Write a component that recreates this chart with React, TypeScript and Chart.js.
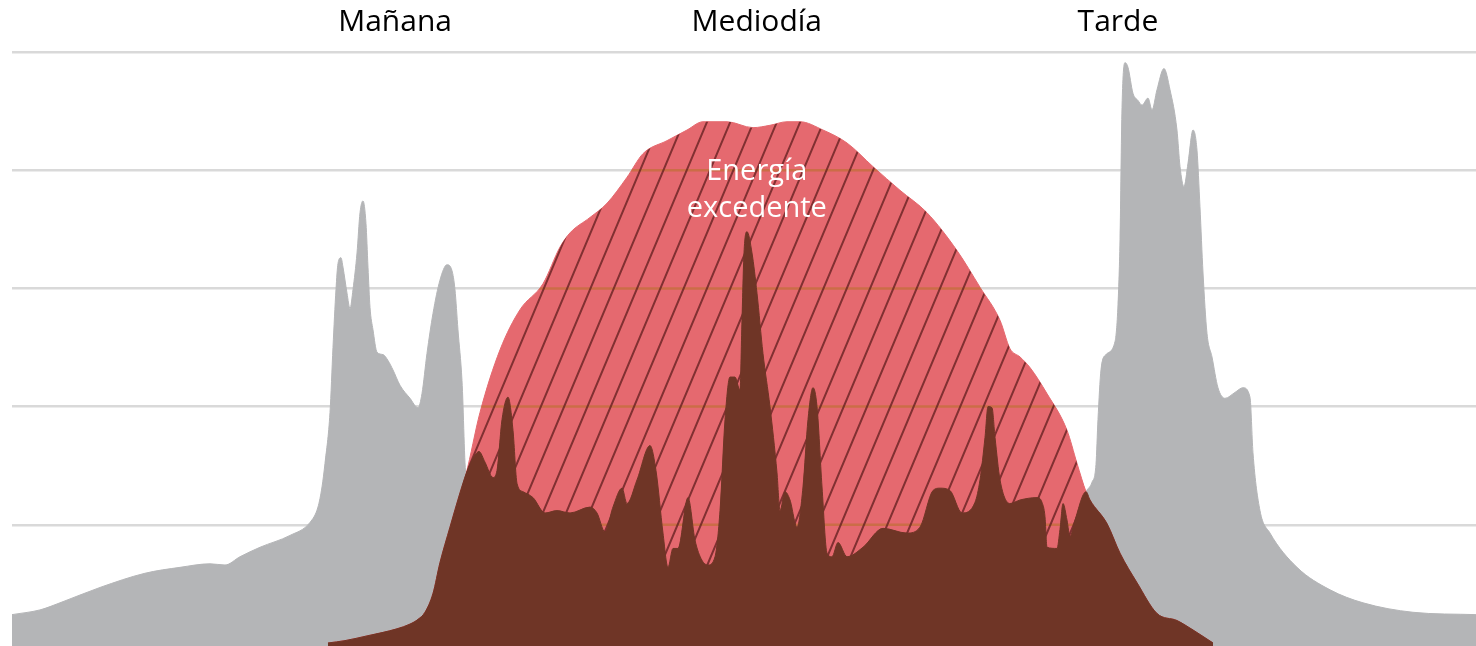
import React, { useEffect, useRef } from "react";
import { Chart, registerables } from "chart.js";

Chart.register(...registerables);

// Hours of the day (x) and power values (y)
const consumoHora = [
  0, 0.459, 0.787, 1.443, 2.18, 2.754, 3.246, 3.492, 3.738, 4.066, 4.557, 4.885, 5.016, 5.082, 5.131,
  5.213, 5.262, 5.311, 5.344, 5.393, 5.426, 5.492, 5.541, 5.59, 5.656, 5.705, 5.754, 5.803, 5.836,
  5.869, 5.918, 5.984, 6.082, 6.164, 6.246, 6.361, 6.525, 6.656, 6.721, 6.803, 6.902, 7.016, 7.131,
  7.213, 7.262, 7.311, 7.377, 7.443, 7.508, 7.59, 7.656, 7.754, 7.885, 7.951, 8.033, 8.131, 8.213,
  8.279, 8.377, 8.541, 8.738, 8.934, 9.148, 9.475, 9.59, 9.721, 9.852, 10.0, 10.082, 10.246, 10.459,
  10.557, 10.672, 10.754, 10.836, 10.918, 11.082, 11.197, 11.311, 11.41, 11.525, 11.607, 11.689,
  11.77, 11.852, 11.934, 11.967, 12.0, 12.049, 12.131, 12.213, 12.311, 12.426, 12.541, 12.59, 12.672,
  12.754, 12.869, 12.967, 13.049, 13.131, 13.197, 13.279, 13.361, 13.443, 13.541, 13.689, 13.951,
  14.279, 14.672, 14.885, 15.098, 15.213, 15.377, 15.574, 15.787, 15.869, 15.951, 16.0, 16.066,
  16.115, 16.197, 16.361, 16.525, 16.803, 16.885, 16.934, 16.967, 17.131, 17.18, 17.23, 17.295,
  17.344, 17.426, 17.607, 17.705, 17.77, 17.803, 17.852, 17.934, 18.082, 18.131, 18.164, 18.197,
  18.246, 18.295, 18.377, 18.459, 18.525, 18.623, 18.689, 18.77, 18.885, 18.984, 19.098, 19.148,
  19.213, 19.279, 19.361, 19.426, 19.475, 19.525, 19.59, 19.672, 19.77, 19.885, 20.049, 20.18,
  20.295, 20.344, 20.459, 20.623, 21.066, 21.607, 22.148, 22.967, 24,
];
const consumoKW = [
  0.24, 0.28, 0.34, 0.47, 0.59, 0.64, 0.67, 0.66, 0.73, 0.81, 0.91, 1.02, 1.15, 1.32, 1.52,
  1.95, 2.5, 2.99, 3.21, 3.26, 3.18, 2.96, 2.83, 2.99, 3.3, 3.64, 3.74, 3.55, 3.18,
  2.84, 2.65, 2.46, 2.44, 2.39, 2.31, 2.18, 2.07, 1.99, 2.11, 2.45, 2.79, 3.07, 3.2,
  3.15, 2.99, 2.65, 2.22, 1.43, 1.51, 1.59, 1.62, 1.53, 1.4, 1.46, 1.89, 2.08, 1.8,
  1.35, 1.28, 1.23, 1.1, 1.12, 1.1, 1.15, 1.1, 0.94, 1.15, 1.31, 1.18, 1.38, 1.67,
  1.46, 0.93, 0.64, 0.8, 0.8, 1.23, 0.87, 0.7, 0.66, 0.73, 1.12, 1.89,
  2.25, 2.25, 2.14, 2.73, 3.3, 3.48, 3.3, 2.96, 2.45, 2.0, 1.44, 1.12, 1.28,
  1.21, 0.98, 1.32, 1.89, 2.16, 2.0, 1.32, 0.76, 0.73, 0.85, 0.73, 0.81,
  0.97, 0.93, 0.98, 1.29, 1.31, 1.29, 1.1, 1.19, 1.38, 1.74, 2.0, 1.99,
  1.74, 1.38, 1.18, 1.21, 1.23, 1.19, 1.07, 0.81, 0.8, 0.96, 1.18, 1.04,
  0.9, 1.04, 1.28, 1.36, 1.51, 1.89, 2.31, 2.44, 2.55, 2.86, 3.41, 4.53,
  4.91, 4.87, 4.65, 4.59, 4.55, 4.61, 4.51, 4.68, 4.86, 4.68, 4.34, 4.03,
  3.86, 4.06, 4.34, 4.17, 3.69, 3.13, 2.62, 2.42, 2.16, 2.07, 2.12, 2.16,
  2.08, 1.61, 1.12, 0.93, 0.64, 0.45, 0.34, 0.26, 0.24,
];

const produccionHora = [
  5.18, 5.459, 5.82, 6.311, 6.525, 6.656, 6.77, 6.902, 7.016, 7.18, 7.344, 7.443, 7.672, 8.0,
  8.328, 8.705, 8.984, 9.148, 9.475, 9.754, 10.082, 10.344, 10.738, 11.066, 11.328, 11.721,
  12.148, 12.426, 12.705, 12.918, 13.295, 13.689, 14.115, 14.557, 15.0, 15.492, 15.869, 16.197,
  16.361, 16.525, 16.689, 16.967, 17.295, 17.459, 17.607, 17.672, 17.951, 18.164, 18.443, 18.77,
  19.098, 19.361, 19.689,
];
const produccionKW = [
  0, 0.02, 0.06, 0.12, 0.16, 0.2, 0.26, 0.42, 0.68, 0.98, 1.27, 1.43, 1.95, 2.48,
  2.82, 3.04, 3.35, 3.47, 3.6, 3.72, 3.94, 4.14, 4.25, 4.34, 4.41, 4.41,
  4.36, 4.38, 4.41, 4.41, 4.34, 4.23, 4.03, 3.83, 3.64, 3.32, 3.01, 2.73,
  2.49, 2.42, 2.33, 2.11, 1.8, 1.52, 1.28, 1.21, 1.01, 0.76, 0.51, 0.25,
  0.19, 0.11, 0,
];

const ticksY = [0, 1, 2, 3, 4, 5];
const etiquetas = ["Mañana", "Mediodía", "Tarde"];
const etiquetasHora = [6.28, 12.21, 18.13];
const etiquetaExcedente = ["Energía", "excedente"];
const excedenteHora = 12.21;
const excedenteKW = [3.92, 3.6];

const GRIS = "#B4B5B7";
const ROJO = "#E5696F";
const MARRON = "#6F3526";
const FONT = "'Open Sans', 'DejaVu Sans', sans-serif";

// Hours where both series meet (present in both arrays with equal value)
const cruces = consumoHora.filter((h, i) => {
  const j = produccionHora.indexOf(h);
  return j >= 0 && produccionKW[j] === consumoKW[i];
});

const consumoPts = consumoHora.map((h, i) => ({ x: h, y: consumoKW[i] }));
const produccionPts = produccionHora.map((h, i) => ({ x: h, y: produccionKW[i] }));
// Self-consumption = min(consumo, produccion): production outside the crossings, consumption inside
const autoconsumoPts = [
  ...produccionPts.filter((p) => p.x <= cruces[0]),
  ...consumoPts.filter((p) => p.x > cruces[0] && p.x < cruces[1]),
  ...produccionPts.filter((p) => p.x >= cruces[1]),
];

const RED_INDEX = 1;

const hatchPlugin = {
  id: "hatchRed",
  afterDatasetDraw(chart: any, args: any) {
    if (args.index !== RED_INDEX) return;
    const { ctx, chartArea } = chart;
    const pts = args.meta.data;
    if (!pts || pts.length < 2) return;
    const yScale = chart.scales.y;
    const base = chartArea.bottom;
    ctx.save();
    ctx.beginPath();
    ctx.rect(chartArea.left, chartArea.top, chartArea.right - chartArea.left, chartArea.bottom - chartArea.top);
    ctx.clip();
    ctx.beginPath();
    ctx.moveTo(pts[0].x, base);
    ctx.lineTo(pts[0].x, pts[0].y);
    for (let i = 1; i < pts.length; i++) {
      const p = pts[i - 1];
      const c = pts[i];
      if (p.cp2x !== undefined && c.cp1x !== undefined) {
        ctx.bezierCurveTo(p.cp2x, p.cp2y, c.cp1x, c.cp1y, c.x, c.y);
      } else {
        ctx.lineTo(c.x, c.y);
      }
    }
    ctx.lineTo(pts[pts.length - 1].x, base);
    ctx.closePath();
    ctx.clip();

    // grid lines showing through the red area
    ctx.strokeStyle = "rgba(185,112,45,0.6)";
    ctx.lineWidth = 2.5;
    for (const v of ticksY) {
      const y = yScale.getPixelForValue(v);
      ctx.beginPath();
      ctx.moveTo(chartArea.left, y);
      ctx.lineTo(chartArea.right, y);
      ctx.stroke();
    }

    // diagonal hatch
    const tanA = 0.42;
    const spacing = 23.3;
    const top = chartArea.top;
    const H = base - top;
    const phase = 417;
    ctx.strokeStyle = "rgba(95,30,30,0.75)";
    ctx.lineWidth = 2;
    ctx.beginPath();
    let x0 = phase - Math.ceil((phase - chartArea.left + H * tanA) / spacing) * spacing;
    for (; x0 < chartArea.right; x0 += spacing) {
      ctx.moveTo(x0, base);
      ctx.lineTo(x0 + H * tanA, top);
    }
    ctx.stroke();
    ctx.restore();
  },
};

const textPlugin = {
  id: "textos",
  afterDraw(chart: any) {
    const { ctx } = chart;
    const xs = chart.scales.x;
    const ys = chart.scales.y;
    ctx.save();
    ctx.textAlign = "center";
    ctx.textBaseline = "alphabetic";
    ctx.font = `30px ${FONT}`;
    ctx.fillStyle = "#000000";
    etiquetas.forEach((t, i) => {
      ctx.fillText(t, xs.getPixelForValue(etiquetasHora[i]), 31);
    });
    ctx.fillStyle = "#FFFFFF";
    ctx.font = `29px ${FONT}`;
    etiquetaExcedente.forEach((t, i) => {
      ctx.fillText(t, xs.getPixelForValue(excedenteHora), ys.getPixelForValue(excedenteKW[i]));
    });
    ctx.restore();
  },
};

export default function App() {
  const canvasRef = useRef<HTMLCanvasElement | null>(null);

  useEffect(() => {
    if (!canvasRef.current) return;
    const chart = new Chart(canvasRef.current, {
      type: "line",
      data: {
        datasets: [
          {
            label: "Autoconsumo",
            data: autoconsumoPts,
            backgroundColor: MARRON,
            borderColor: MARRON,
            borderWidth: 1,
            fill: "start",
            pointRadius: 0,
            cubicInterpolationMode: "monotone",
            order: 1,
          },
          {
            label: "Producción",
            data: produccionPts,
            backgroundColor: ROJO,
            borderColor: ROJO,
            borderWidth: 1,
            fill: "start",
            pointRadius: 0,
            cubicInterpolationMode: "monotone",
            order: 2,
          },
          {
            label: "Consumo",
            data: consumoPts,
            backgroundColor: GRIS,
            borderColor: GRIS,
            borderWidth: 1,
            fill: "start",
            pointRadius: 0,
            cubicInterpolationMode: "monotone",
            order: 3,
          },
        ],
      },
      options: {
        animation: false,
        responsive: true,
        maintainAspectRatio: false,
        parsing: false as any,
        layout: { padding: { left: 12, right: 0, top: 52, bottom: 0 } },
        plugins: {
          legend: { display: false },
          tooltip: { enabled: false },
          title: { display: false },
        },
        events: [],
        scales: {
          x: {
            type: "linear",
            min: 0,
            max: 24,
            display: false,
          },
          y: {
            type: "linear",
            min: -0.0254,
            max: 5,
            afterBuildTicks: (axis: any) => {
              axis.ticks = ticksY.map((v) => ({ value: v }));
            },
            ticks: { display: false },
            border: { display: false },
            grid: { color: "#D9D9D9", lineWidth: 2.5, drawTicks: false },
          },
        },
      },
      plugins: [hatchPlugin, textPlugin],
    });
    return () => chart.destroy();
  }, []);

  return (
    <div style={{ position: "absolute", left: 0, top: 0, width: 1476, height: 646, background: "#fff" }}>
      <canvas ref={canvasRef} />
    </div>
  );
}
